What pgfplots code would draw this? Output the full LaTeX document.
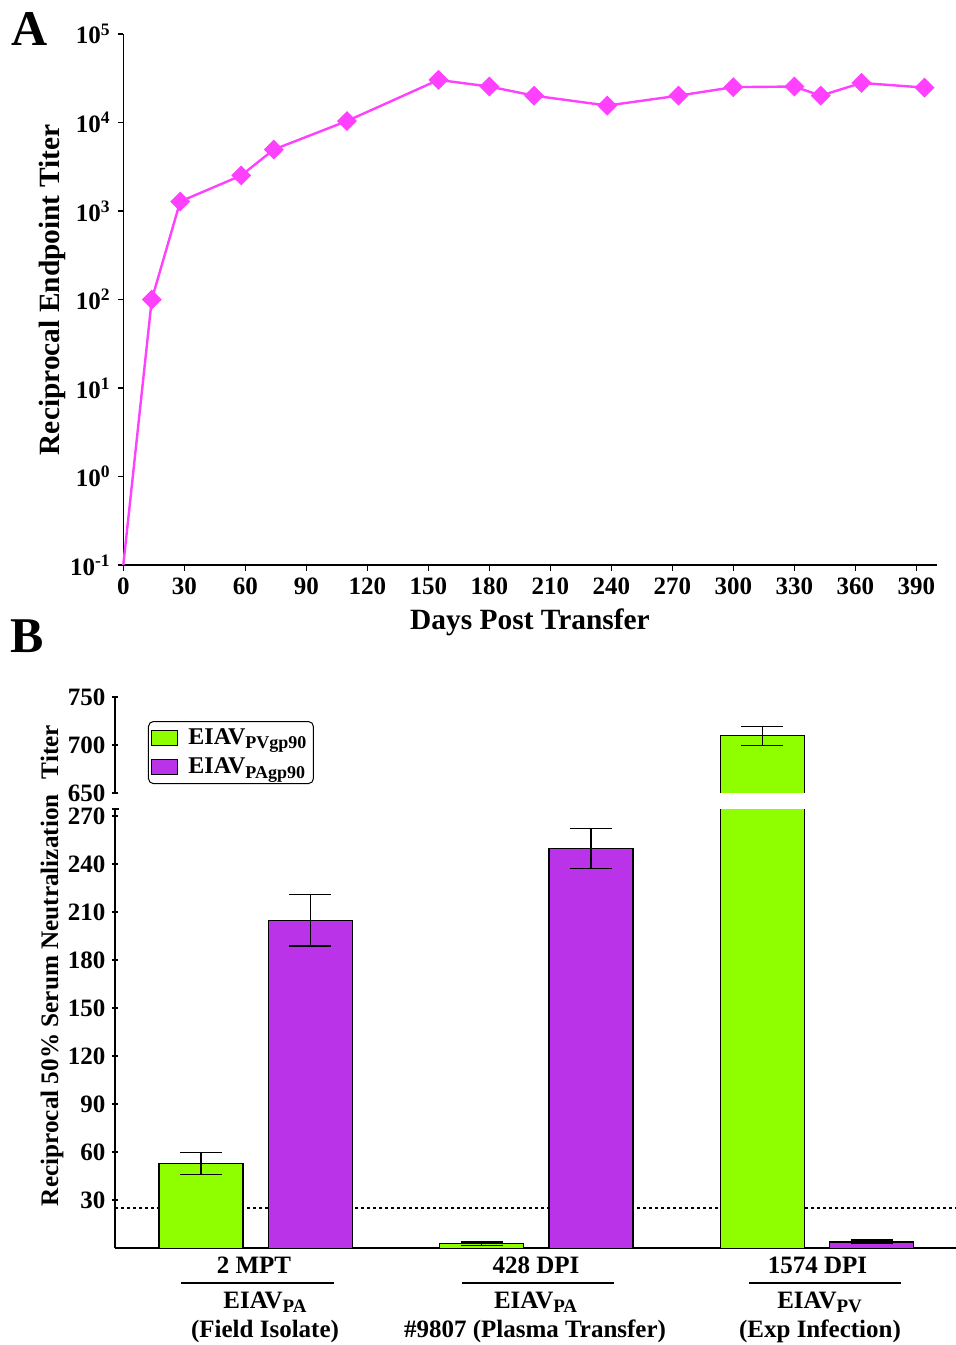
\documentclass[border=0pt]{standalone}
\usepackage{fontspec}
\setmainfont{Liberation Serif}
\usepackage{pgfplots}
\pgfplotsset{compat=1.18}

\definecolor{mag}{RGB}{255,64,255}
\definecolor{grn}{RGB}{143,255,0}
\definecolor{prp}{RGB}{187,51,232}
\newcommand{\tk}{\fontsize{12.5}{14}\selectfont\bfseries}
\newcommand{\lb}{\fontsize{14.7}{17}\selectfont\bfseries}
\newcommand{\sub}[2]{\raisebox{-0.4ex}{\fontsize{#1}{#1}\selectfont #2}}

\pgfplotsset{
  errs/.style={error bars/.cd, y dir=both, y explicit,
    error bar style={line width=0.6pt, black},
    error mark options={rotate=90, mark size=10.5pt, line width=0.6pt, black}},
  barB/.style={ybar, bar width=0.2993, bar shift=0, draw=black, line width=0.6pt, forget plot},
  baseB/.style={scale only axis, width=420.5pt, xmin=-0.501, xmax=2.495,
    tick align=outside, major tick length=2.6pt,
    ytick style={line width=1pt, black}, xtick=\empty,
    yticklabel style={font=\tk}, /pgf/number format/assume math mode=true},
}

\begin{document}
\begin{tikzpicture}
\useasboundingbox (0,0) rectangle (478pt,-672.5pt);

% ---------- panel A ----------
\begin{axis}[
  at={(61.65pt,-282.5pt)}, anchor=south west,
  scale only axis, width=406.7pt, height=265.5pt,
  xmin=0, xmax=400, ymin=0.1, ymax=1e5, ymode=log,
  axis x line=bottom, axis y line=left,
  axis line style={-, line width=0.7pt},
  xtick={0,30,...,390},
  ytick={0.1,1,10,100,1000,10000,100000},
  yticklabels={10\textsuperscript{-1},10\textsuperscript{0},10\textsuperscript{1},10\textsuperscript{2},10\textsuperscript{3},10\textsuperscript{4},10\textsuperscript{5}},
  yminorticks=false,
  tick align=outside, major tick length=2.8pt,
  tick style={line width=0.7pt, black},
  ticklabel style={font=\tk},
  /pgf/number format/assume math mode=true,
  clip=false,
]
\addplot[color=mag, line width=1.2pt, mark=square*, mark size=2.93pt,
  mark options={rotate=45, solid, fill=mag},
  mark indices={2,3,4,5,6,7,8,9,10,11,12,13,14,15,16}] coordinates {
  (0,0.1) (14,100) (28,1280) (58,2520) (74,4950) (110,10400)
  (155,30300) (180,25500) (202,20100) (238,15550) (273,20100)
  (300,25100) (330,25500) (343,20100) (363,28000) (394,24800)
};
\end{axis}
\node[font=\fontsize{25}{28}\selectfont\bfseries] at (15pt,-14.25pt) {A};
\node[rotate=90, font=\lb] at (26pt,-145pt) {Reciprocal Endpoint Titer};
\node[font=\lb] at (265pt,-311pt) {Days Post Transfer};

% ---------- panel B, upper part (650-750) ----------
\begin{axis}[baseB,
  at={(57.5pt,-396.65pt)}, anchor=south west, height=48pt,
  ymin=650, ymax=750, axis x line=none, axis y line=left,
  axis line style={-, line width=1pt},
  ytick={650,700,750},
  legend image code/.code={\draw[sharp corners, draw=black, line width=0.5pt, #1] (0pt,-3.9pt) rectangle (13pt,3.9pt);},
  legend style={at={(0.0392,0.753)}, anchor=north west, draw=black, line width=0.5pt,
    rounded corners=2.5pt, font=\fontsize{12}{13}\selectfont\bfseries,
    cells={anchor=west}, inner sep=1.5pt, row sep=1.2pt},
]
% upper segment of the 1574 DPI green bar: fill, open outline, error bar
\addplot[ybar, bar width=0.2993, bar shift=0, fill=grn, draw=none, forget plot, errs]
  coordinates {(1.8055,710) +- (0,10)};
\addplot[black, line width=0.6pt, forget plot]
  coordinates {(1.6559,650) (1.6559,710) (1.9552,710) (1.9552,650)};
\addlegendimage{fill=grn}
\addlegendentry{\hspace{3pt}EIAV\sub{9}{PVgp90}}
\addlegendimage{fill=prp}
\addlegendentry{\hspace{3pt}EIAV\sub{9}{PAgp90}}
\end{axis}

% ---------- panel B, lower part (0-275) ----------
\begin{axis}[baseB,
  at={(57.5pt,-624.15pt)}, anchor=south west, height=219.65pt,
  ymin=0, ymax=274.6, axis x line=bottom, axis y line=left,
  axis line style={-, line width=1pt},
  ytick={30,60,...,270},
]
\addplot[black, line width=1pt, dash pattern=on 1.5pt off 1.5pt, forget plot]
  coordinates {(-0.501,25) (2.495,25)};
\addplot[barB, fill=grn, errs] coordinates {
  (-0.1945,53) +- (0,7) (0.8055,3) +- (0,1) (1.8055,710) +- (0,10)};
\addplot[barB, fill=prp, errs] coordinates {
  (0.1945,205) +- (0,16) (1.1945,250) +- (0,12.6) (2.1945,4) +- (0,1.2)};
\end{axis}
\draw[line width=1pt] (56pt,-404.5pt) -- (59.4pt,-404.5pt);

\node[font=\fontsize{25}{28}\selectfont\bfseries] at (13.75pt,-318pt) {B};
\node[rotate=90, font=\fontsize{12.6}{15}\selectfont\bfseries] at (26pt,-482.75pt)
  {Reciprocal 50\% Serum Neutralization\hspace{0.6em}Titer};

% category labels
\node[font=\tk, anchor=base] at (127pt,-636.5pt) {2 MPT};
\draw[line width=1pt] (90.5pt,-641.35pt) -- (166.8pt,-641.35pt);
\node[font=\tk, anchor=base] at (132.5pt,-654pt) {EIAV\sub{9.5}{PA}};
\node[font=\tk, anchor=base] at (132.5pt,-668.5pt) {(Field Isolate)};

\node[font=\tk, anchor=base] at (268pt,-636.5pt) {428 DPI};
\draw[line width=1pt] (231pt,-641.35pt) -- (307pt,-641.35pt);
\node[font=\tk, anchor=base] at (267.8pt,-654pt) {EIAV\sub{9.5}{PA}};
\node[font=\tk, anchor=base] at (267.5pt,-668.5pt) {\#9807 (Plasma Transfer)};

\node[font=\tk, anchor=base] at (408.75pt,-636.5pt) {1574 DPI};
\draw[line width=1pt] (374.25pt,-641.35pt) -- (450.4pt,-641.35pt);
\node[font=\tk, anchor=base] at (409.8pt,-654pt) {EIAV\sub{9.5}{PV}};
\node[font=\tk, anchor=base] at (410pt,-668.5pt) {(Exp Infection)};
\end{tikzpicture}
\end{document}
